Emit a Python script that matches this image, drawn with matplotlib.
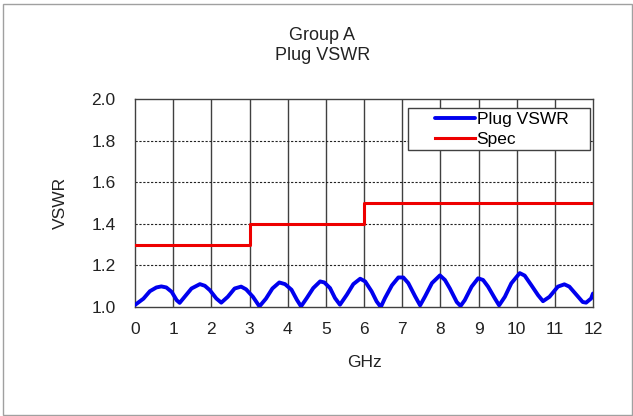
import matplotlib
matplotlib.use('Agg')
from matplotlib import pyplot as plt
from matplotlib.patches import Rectangle

plt.rcParams['font.family'] = ['Liberation Sans', 'DejaVu Sans']

# Plug VSWR (GHz, VSWR)
freq_ghz = [0.00, 0.22, 0.39, 0.56, 0.69, 0.82, 0.96, 1.09, 1.17,
            1.30, 1.48, 1.70, 1.83, 1.96, 2.13, 2.26,
            2.43, 2.61, 2.78, 2.91, 3.09, 3.26,
            3.43, 3.60, 3.78, 3.93, 4.10, 4.24, 4.35,
            4.50, 4.67, 4.85, 4.96, 5.11, 5.24, 5.37,
            5.55, 5.72, 5.90, 6.03, 6.20, 6.33, 6.44,
            6.55, 6.73, 6.90, 7.03, 7.16, 7.34, 7.47,
            7.60, 7.78, 7.99, 8.12, 8.25, 8.43, 8.53,
            8.64, 8.82, 8.99, 9.12, 9.25, 9.43, 9.54,
            9.69, 9.86, 10.08, 10.21, 10.38, 10.56, 10.69,
            10.86, 11.08, 11.25, 11.38, 11.56, 11.73, 11.82,
            11.95, 12.00]
plug_vswr = [1.010, 1.040, 1.076, 1.094, 1.099, 1.094, 1.073, 1.033, 1.020,
             1.049, 1.089, 1.110, 1.102, 1.081, 1.041, 1.021,
             1.049, 1.089, 1.098, 1.085, 1.049, 1.003,
             1.040, 1.089, 1.118, 1.110, 1.083, 1.035, 1.003,
             1.043, 1.091, 1.123, 1.118, 1.091, 1.043, 1.011,
             1.059, 1.110, 1.136, 1.123, 1.075, 1.027, 1.000,
             1.043, 1.104, 1.142, 1.142, 1.115, 1.051, 1.008,
             1.051, 1.115, 1.152, 1.130, 1.089, 1.024, 1.005,
             1.033, 1.098, 1.138, 1.130, 1.098, 1.041, 1.008,
             1.049, 1.114, 1.163, 1.151, 1.106, 1.057, 1.028,
             1.049, 1.098, 1.109, 1.098, 1.060, 1.024, 1.021,
             1.041, 1.065]

# spec limit steps
spec_ghz = [0, 3, 3, 6, 6, 12]
spec_vswr = [1.3, 1.3, 1.4, 1.4, 1.5, 1.5]

x_ticks = list(range(0, 13))
y_ticks = [1.0, 1.2, 1.4, 1.6, 1.8, 2.0]

fig = plt.figure(figsize=(6.33, 4.16), dpi=100)
fig.patches.append(Rectangle((3 / 633, 1 / 416), 629 / 633, 411 / 416,
                             transform=fig.transFigure, fill=False,
                             edgecolor='#a0a0a0', linewidth=1))

ax = fig.add_axes([0.2133, 0.262, 0.7235, 0.5])
ax.plot(freq_ghz, plug_vswr, color='#0000ee', linewidth=2.8, label='Plug VSWR',
        solid_joinstyle='round', solid_capstyle='round', zorder=3)
ax.plot(spec_ghz, spec_vswr, color='#ee0000', linewidth=2.2, label='Spec', zorder=3)

ax.set_xlim(0, 12)
ax.set_ylim(1.0, 2.0)
ax.set_xticks(x_ticks)
ax.set_yticks(y_ticks)
ax.set_yticklabels(['%.1f' % v for v in y_ticks])
ax.tick_params(axis='y', length=0, labelsize=12.5, pad=14, colors='#222222')
ax.tick_params(axis='x', length=0, labelsize=12.5, pad=11, colors='#222222')
for v in x_ticks[1:-1]:
    ax.axvline(v, color='#404040', linewidth=1, zorder=1)
for v in y_ticks[1:-1]:
    ax.axhline(v, color='#222222', linewidth=0.8, linestyle=(0, (2, 1.5)), zorder=1)
for s in ax.spines.values():
    s.set_color('#404040')
    s.set_linewidth(1)

ax.set_xlabel('GHz', fontsize=12.5, labelpad=13, color='#222222')
ax.set_ylabel('VSWR', fontsize=12.5, labelpad=17, color='#222222')
fig.text(0.509, 0.915, 'Group A', ha='center', va='center', fontsize=13, color='#222222')
fig.text(0.509, 0.866, 'Plug VSWR', ha='center', va='center', fontsize=13, color='#222222')

# legend box drawn by hand so it can be wider than its contents
ax.add_patch(Rectangle((0.596, 0.755), 0.397, 0.202, transform=ax.transAxes,
                       facecolor='white', edgecolor='#404040', linewidth=1, zorder=4))
leg = ax.legend(loc='center left', bbox_to_anchor=(0.655, 0.853), borderaxespad=0,
                borderpad=0, fontsize=12.5, handlelength=2.3, handletextpad=0.1,
                labelspacing=0.25, frameon=False)
leg.set_zorder(5)

fig.savefig('out.png', dpi=100)
